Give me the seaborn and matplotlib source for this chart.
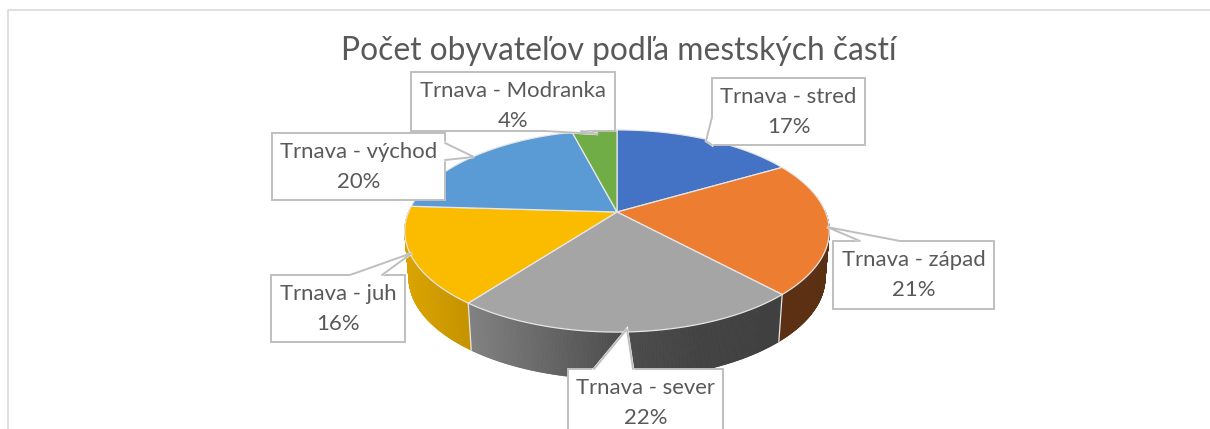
import numpy as np
import matplotlib
matplotlib.use("Agg")
import matplotlib.pyplot as plt
from matplotlib.collections import PolyCollection
from matplotlib.patches import Rectangle
import seaborn as sns

# ---- data
categories = ["Trnava - stred", "Trnava - západ", "Trnava - sever",
              "Trnava - juh", "Trnava - východ", "Trnava - Modranka"]
values = [16.7, 21.4, 22.4, 15.6, 20.0, 4.1]
title = "Počet obyvateľov podľa mestských častí"
hex_colors = ["#4472C4", "#ED7D31", "#A5A5A5", "#FBBC00", "#5B9BD5", "#70AD47"]

# ---- layout (pixels): box x0, y0, x1, y1, pointer tip, pointer base a, base b
callouts = [
    ((712, 78, 865, 145), (706, 141), (712, 117), (712, 145)),
    ((833, 241, 994, 309), (827, 227), (860, 241), (900, 241)),
    ((568, 369, 723, 445), (627, 329), (594, 369), (633, 369)),
    ((271, 275, 405, 342), (412, 253), (350, 275), (382, 275)),
    ((272, 133, 445, 200), (474, 157), (445, 143), (445, 160)),
    ((411, 72, 615, 131), (598, 134), (545, 131), (581, 131)),
]

sns.set_theme(style="white")
plt.rcParams["font.family"] = ["Lato", "DejaVu Sans"]
palette = sns.color_palette(hex_colors)

fig = plt.figure(figsize=(12.1, 4.29), dpi=100)
ax = fig.add_axes([0, 0, 1, 1])
ax.set_xlim(0, 1210)
ax.set_ylim(429, 0)
ax.axis("off")

CX, CY, RX, RY, K = 617.0, 212.0, 208.5, 97.5, 0.188
DEPTH, SHRINK = 47.0, 0.98
EDGE = "#E6E6E6"


def rim(t):
    t = np.asarray(t)
    d = 1 + K * np.sin(t)
    return RX * np.cos(t) / d, RY * np.sin(t) / d


def top_xy(t):
    x, y = rim(t)
    return CX + x, CY - y


def bot_xy(t):
    x, y = rim(t)
    return CX + SHRINK * x, CY + DEPTH - y


def shade(x):
    return np.interp(x, [404, 470, 620, 700, 830], [0.87, 0.78, 0.46, 0.40, 0.38])


total = sum(values)
fractions = [v / total for v in values]
edges = np.pi / 2 - 2 * np.pi * np.concatenate([[0], np.cumsum(fractions)])

# frame of the chart
ax.plot([8, 8, 1210], [429, 10, 10], color="#D9D9D9", lw=1.2, zorder=1)

# side wall of the front half
for i, col in enumerate(palette):
    a, b = edges[i], edges[i + 1]
    ts = np.linspace(a, b, max(int((a - b) * 180), 2))
    ts = ts[np.sin(ts) < 0.02]
    if len(ts) < 2:
        continue
    polys, cols = [], []
    for t0, t1 in zip(ts[:-1], ts[1:]):
        x0, y0 = top_xy(t0)
        x1, y1 = top_xy(t1)
        x2, y2 = bot_xy(t1)
        x3, y3 = bot_xy(t0)
        polys.append([(x0, y0), (x1, y1), (x2, y2), (x3, y3)])
        f = shade((x0 + x1) / 2)
        cols.append(tuple(c * f for c in col))
    ax.add_collection(PolyCollection(polys, facecolors=cols, edgecolors=cols,
                                     linewidths=0.6, zorder=2))

# top surface and separators
for i, col in enumerate(palette):
    ts = np.linspace(edges[i], edges[i + 1], 200)
    xs, ys = top_xy(ts)
    ax.fill(np.r_[CX, xs], np.r_[CY, ys], facecolor=col, edgecolor=EDGE,
            lw=0.9, zorder=3, joinstyle="round")

for e in edges[:-1]:
    if np.sin(e) < 0:
        x0, y0 = top_xy(e)
        x1, y1 = bot_xy(e)
        ax.plot([x0, x1], [y0, y1], color=EDGE, lw=0.9, zorder=3)

# title
ax.text(618.5, 60, title, ha="center", va="baseline", fontsize=22.9,
        color="#595959", zorder=4)

# callouts
for name, frac, (box, tip, base_a, base_b) in zip(categories, fractions, callouts):
    x0, y0, x1, y1 = box
    ax.add_patch(Rectangle((x0, y0), x1 - x0, y1 - y0, facecolor="white",
                           edgecolor="#BFBFBF", lw=1.4, zorder=5))
    ax.fill([base_a[0], tip[0], base_b[0]], [base_a[1], tip[1], base_b[1]],
            color="white", lw=1.8, zorder=6)
    ax.plot([base_a[0], tip[0], base_b[0]], [base_a[1], tip[1], base_b[1]],
            color="#BFBFBF", lw=1.4, zorder=7, solid_joinstyle="miter")
    mid = (x0 + x1) / 2
    ax.text(mid, y0 + 19, name, ha="center", va="center", fontsize=15.9,
            color="#595959", zorder=8)
    ax.text(mid, y0 + 49, f"{round(frac * 100)}%", ha="center", va="center",
            fontsize=15.9, color="#595959", zorder=8)

fig.savefig("out.png", dpi=100, facecolor="white")
